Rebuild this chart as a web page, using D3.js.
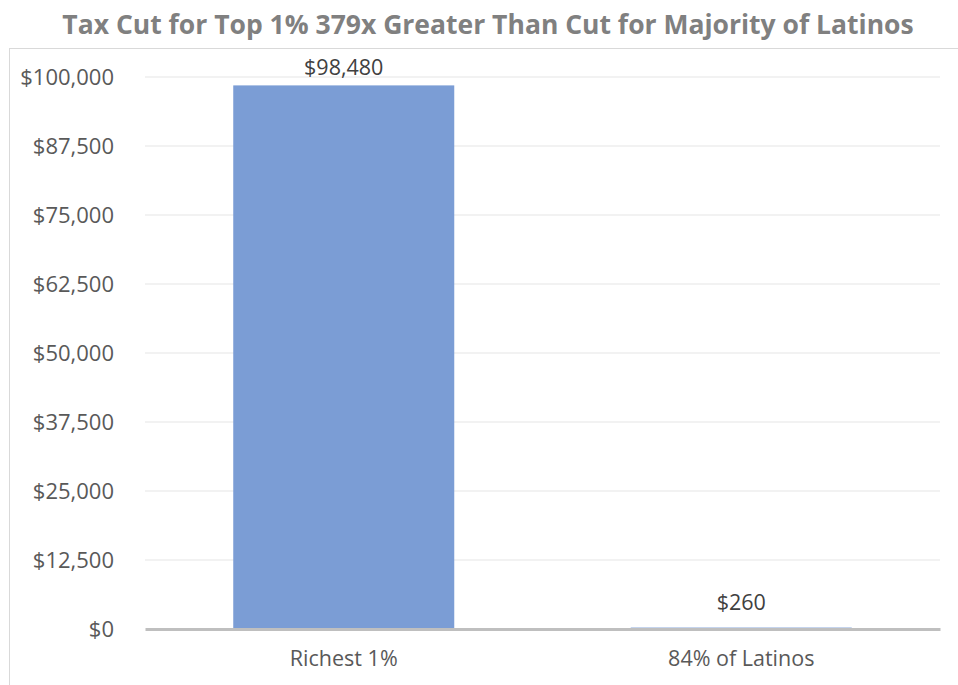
<!DOCTYPE html>
<html>
<head>
<meta charset="utf-8">
<script src="https://cdn.jsdelivr.net/npm/d3@7"></script>
<style>
  body { margin: 0; background: #fff; }
  text { font-family: "Open Sans", sans-serif; }
</style>
</head>
<body>
<div id="chart"></div>
<script>
// chart data
var categories = ["Richest 1%", "84% of Latinos"];
var taxCut = [98480, 260];
var yTicks = [0, 12500, 25000, 37500, 50000, 62500, 75000, 87500, 100000];
var title = "Tax Cut for Top 1% 379x Greater Than Cut for Majority of Latinos";

var width = 958, height = 685;
var margin = { top: 77, right: 18, bottom: 56, left: 145 };

var svg = d3.select("#chart").append("svg")
  .attr("width", width)
  .attr("height", height);

// chart area border (runs off the right and bottom edge)
svg.append("rect")
  .attr("x", 9.5).attr("y", 48.5)
  .attr("width", 1000).attr("height", 700)
  .attr("fill", "none")
  .attr("stroke", "#d9d9d9");

svg.append("text")
  .attr("x", 488).attr("y", 34)
  .attr("text-anchor", "middle")
  .attr("font-size", 26.5)
  .attr("font-weight", "bold")
  .attr("fill", "#808080")
  .text(title);

var x = d3.scaleBand()
  .domain(categories)
  .range([margin.left, width - margin.right])
  .paddingInner(0.444)
  .paddingOuter(0.222);

var y = d3.scaleLinear()
  .domain([0, 100000])
  .range([height - margin.bottom, margin.top]);

var fmt = d3.format("$,");

// gridlines
svg.append("g")
  .selectAll("line")
  .data(yTicks.filter(d => d > 0))
  .join("line")
  .attr("x1", margin.left).attr("x2", width - margin.right)
  .attr("y1", d => y(d)).attr("y2", d => y(d))
  .attr("stroke", "#eeeeee")
  .attr("stroke-width", 1.5);

// y axis labels
var yAxis = svg.append("g")
  .attr("transform", "translate(" + (margin.left - 28) + ",0)")
  .call(d3.axisLeft(y).tickValues(yTicks).tickFormat(fmt).tickSize(0));
yAxis.select(".domain").remove();
yAxis.selectAll("text")
  .attr("font-size", 22)
  .attr("font-family", "Open Sans, sans-serif")
  .attr("fill", "#595959");

// bars
svg.append("g")
  .selectAll("rect")
  .data(categories)
  .join("rect")
  .attr("x", d => x(d))
  .attr("width", x.bandwidth())
  .attr("y", (d, i) => y(taxCut[i]))
  .attr("height", (d, i) => y(0) - y(taxCut[i]))
  .attr("fill", "#7b9dd5");

// data labels, kept inside the plot area
svg.append("g")
  .selectAll("text")
  .data(categories)
  .join("text")
  .attr("x", d => x(d) + x.bandwidth() / 2)
  .attr("y", (d, i) => Math.max(y(taxCut[i]) - 18, 75))
  .attr("text-anchor", "middle")
  .attr("font-size", 21.5)
  .attr("fill", "#404040")
  .text((d, i) => fmt(taxCut[i]));

// x axis
var xAxis = svg.append("g")
  .attr("transform", "translate(0," + y(0) + ")")
  .call(d3.axisBottom(x).tickSize(0).tickPadding(22));
xAxis.select(".domain")
  .attr("stroke", "#bfbfbf")
  .attr("stroke-width", 3);
xAxis.selectAll("text")
  .attr("font-size", 21.5)
  .attr("font-family", "Open Sans, sans-serif")
  .attr("fill", "#595959");
</script>
</body>
</html>
